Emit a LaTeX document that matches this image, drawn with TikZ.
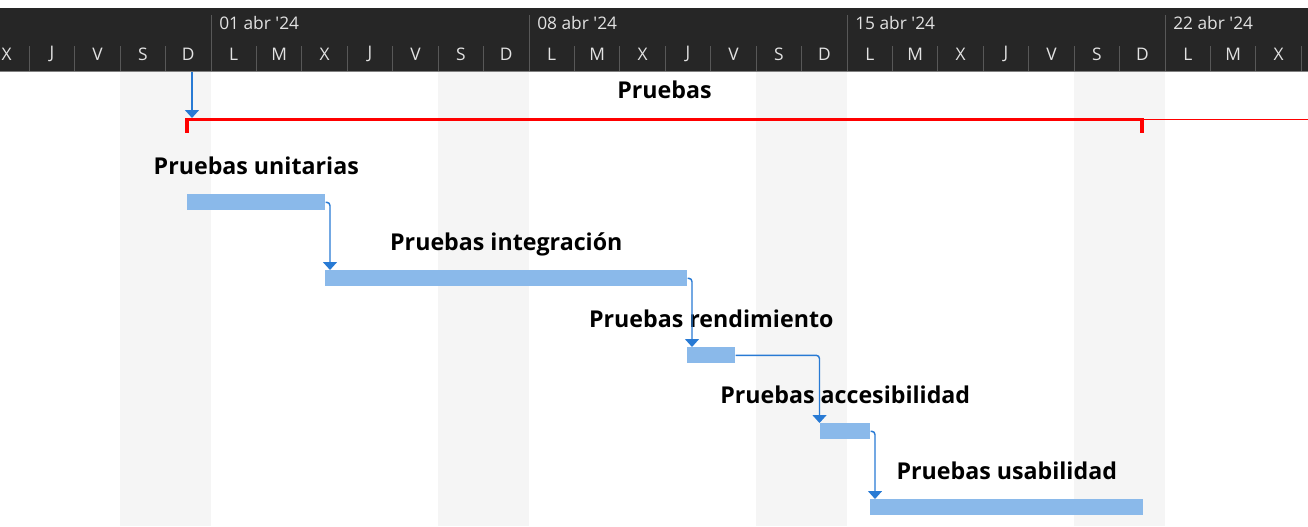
\documentclass[tikz,border=0pt]{standalone}
\usepackage{fontspec}
\setmainfont{Open Sans}
\usepackage{xcolor}
\usetikzlibrary{positioning}
\usetikzlibrary{calc}
\usetikzlibrary{arrows.meta}
\definecolor{hdrgray}{RGB}{38,38,38}
\definecolor{hdrtext}{RGB}{226,226,226}
\definecolor{hdrline}{RGB}{88,88,88}
\definecolor{wkendgray}{RGB}{245,245,245}
\definecolor{barblue}{RGB}{138,185,234}
\definecolor{linkblue}{RGB}{40,122,212}
\definecolor{sumred}{RGB}{255,0,0}

\begin{document}
\begin{tikzpicture}[
  x=0.75pt, y=-0.75pt,
  daylbl/.style={text=hdrtext, font=\fontsize{13}{15}\selectfont, inner sep=0pt},
  wklbl/.style={daylbl, anchor=west},
  taskbar/.style={fill=barblue, anchor=north west, minimum height=12pt, inner sep=0pt},
  tasklbl/.style={font=\fontsize{17.4}{20}\selectfont\bfseries, inner sep=0pt},
  link/.style={draw=linkblue, line width=1.1pt, rounded corners=2.5pt, -{Triangle[width=10.5pt,length=6pt]}},
]
\useasboundingbox (0,0) rectangle (1308,526);

% weekend columns
\fill [wkendgray] (120,72) rectangle (210.9,526);
\fill [wkendgray] (438,72) rectangle (528.9,526);
\fill [wkendgray] (756,72) rectangle (846.9,526);
\fill [wkendgray] (1074,72) rectangle (1164.9,526);

% timescale
\fill [hdrgray] (0,8) rectangle (1308,72);
\foreach \k in {-4,...,24}
  \draw [hdrline, line width=0.75pt] (211+\k*45.43,46) -- (211+\k*45.43,71);
\foreach \k in {0,7,14,21}
  \draw [hdrline, line width=0.75pt] (211+\k*45.43,15) -- (211+\k*45.43,71);
\draw [gray, line width=1.2pt] (0,71.5) -- (1308,71.5);

\node [wklbl] (wk1) at (219,23) {01 abr \textquotesingle24};
\node [wklbl] (wk2) at (537,23) {08 abr \textquotesingle24};
\node [wklbl] (wk3) at (855,23) {15 abr \textquotesingle24};
\node [wklbl] (wk4) at (1173,23) {22 abr \textquotesingle24};

\foreach \d [count=\i] in {X,J,V,S,D,L,M,X,J,V,S,D,L,M,X,J,V,S,D,L,M,X,J,V,S,D,L,M,X}
  \node [daylbl] (day\i) at (211+\i*45.43-5.5*45.43,54) {\d};

% summary task
\coordinate (sumL) at (187,119.5);
\coordinate (sumR) at (1142,119.5);
\draw [sumred, line width=2.2pt] (sumL) -- (sumR);
\fill [sumred] (185,118) rectangle (189,133);
\fill [sumred] (1139.5,118) rectangle (1144,133);
\draw [sumred, line width=1.4pt] (sumR) -- (1308,119.5);
\node [tasklbl, anchor=base] (sumlbl) at ($(sumL)!0.5!(sumR)+(0,-21)$) {Pruebas};

% tasks
\node [taskbar, minimum width=103.5pt] (unit) at (187,194) {};
\node [taskbar, minimum width=271.5pt] (integ) at (325,270) {};
\node [taskbar, minimum width=36pt] (rend) at (687,347) {};
\node [taskbar, minimum width=37.5pt] (acces) at (820,423) {};
\node [taskbar, minimum width=204.75pt] (usab) at (870,499) {};

\node [tasklbl, above=15pt of unit, anchor=base] (unitlbl) {Pruebas unitarias};
\node [tasklbl, above=15pt of integ, anchor=base] (integlbl) {Pruebas integración};
\node [tasklbl, above=15pt of rend, anchor=base] (rendlbl) {Pruebas rendimiento};
\node [tasklbl, above=15pt of acces, anchor=base] (acceslbl) {Pruebas accesibilidad};
\node [tasklbl, above=15pt of usab, anchor=base] (usablbl) {Pruebas usabilidad};

% links
\coordinate (prev) at (192,72);
\draw [link] (prev) -- ($(sumL)+(5,-1.5)$);
\draw [link] (unit.east) -| ($(integ.north west)+(5,0)$);
\draw [link] (integ.east) -| ($(rend.north west)+(5,0)$);
\draw [link] (rend.east) -| ($(acces.north west)+(-0.5,0)$);
\draw [link] (acces.east) -| ($(usab.north west)+(5,0)$);
\end{tikzpicture}
\end{document}
